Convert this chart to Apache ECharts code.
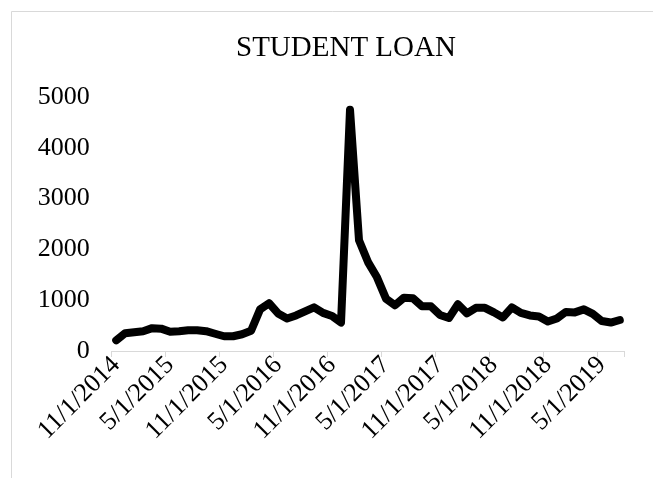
<!DOCTYPE html>
<html>
<head>
<meta charset="utf-8">
<script src="https://cdn.jsdelivr.net/npm/echarts@6/dist/echarts.min.js"></script>
<style>
html,body{margin:0;padding:0;background:#fff;}
#chart{width:653px;height:478px;}
</style>
</head>
<body>
<div id="chart"></div>
<script>
const titleText = "STUDENT LOAN";
const months = [
  "11/1/2014","12/1/2014","1/1/2015","2/1/2015","3/1/2015","4/1/2015",
  "5/1/2015","6/1/2015","7/1/2015","8/1/2015","9/1/2015","10/1/2015",
  "11/1/2015","12/1/2015","1/1/2016","2/1/2016","3/1/2016","4/1/2016",
  "5/1/2016","6/1/2016","7/1/2016","8/1/2016","9/1/2016","10/1/2016",
  "11/1/2016","12/1/2016","1/1/2017","2/1/2017","3/1/2017","4/1/2017",
  "5/1/2017","6/1/2017","7/1/2017","8/1/2017","9/1/2017","10/1/2017",
  "11/1/2017","12/1/2017","1/1/2018","2/1/2018","3/1/2018","4/1/2018",
  "5/1/2018","6/1/2018","7/1/2018","8/1/2018","9/1/2018","10/1/2018",
  "11/1/2018","12/1/2018","1/1/2019","2/1/2019","3/1/2019","4/1/2019",
  "5/1/2019","6/1/2019","7/1/2019"
];
const loanValues = [
  210, 350, 370, 390, 450, 440,
  380, 390, 410, 410, 390, 340,
  290, 290, 330, 400, 820, 940,
  740, 640, 700, 780, 860, 750,
  690, 560, 4750, 2180, 1750, 1450,
  1030, 900, 1050, 1040, 880, 880,
  710, 650, 920, 740, 850, 850,
  760, 660, 860, 750, 700, 680,
  580, 640, 770, 760, 820, 730,
  590, 560, 610
];
const yTicks = [0, 1000, 2000, 3000, 4000, 5000];

const chart = echarts.init(document.getElementById('chart'));
const font = '"Liberation Serif", "Times New Roman", serif';
chart.setOption({
  animation: false,
  backgroundColor: '#fff',
  graphic: [{
    type: 'rect',
    shape: { x: 11.5, y: 11.5, width: 700, height: 500 },
    style: { fill: 'none', stroke: '#d9d9d9', lineWidth: 1 },
    silent: true
  }],
  title: {
    text: titleText,
    left: 231,
    top: 29,
    textStyle: { fontFamily: font, fontSize: 29, fontWeight: 'normal', color: '#000' }
  },
  grid: { left: 111.7, right: 28.7, top: 97, bottom: 127 },
  xAxis: {
    type: 'category',
    data: months,
    boundaryGap: true,
    axisLine: { lineStyle: { color: '#d9d9d9', width: 1 } },
    axisTick: { show: true, length: 6, lineStyle: { color: '#d9d9d9' }, interval: 5 },
    axisLabel: {
      interval: 5,
      rotate: 45,
      margin: 10,
      fontFamily: font,
      fontSize: 26,
      color: '#000'
    },
    splitLine: { show: false }
  },
  yAxis: {
    type: 'value',
    min: yTicks[0],
    max: yTicks[yTicks.length - 1],
    interval: 1000,
    axisLine: { show: false },
    axisTick: { show: false },
    splitLine: { show: false },
    axisLabel: {
      fontFamily: font, fontSize: 26, color: '#000', margin: 22,
      formatter: function (v) { return String(v); }
    }
  },
  series: [{
    type: 'line',
    data: loanValues,
    symbol: 'none',
    smooth: false,
    lineStyle: { color: '#000', width: 8, join: 'round', cap: 'round' }
  }]
});
</script>
</body>
</html>
